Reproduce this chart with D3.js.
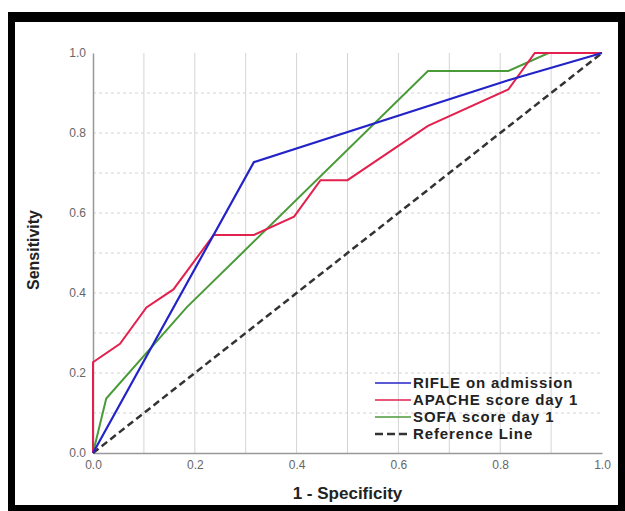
<!DOCTYPE html>
<html>
<head>
<meta charset="utf-8">
<script src="https://cdn.jsdelivr.net/npm/d3@7"></script>
<style>
  body { margin: 0; background: #fff; }
  svg { display: block; font-family: "Liberation Sans", Arial, sans-serif; }
</style>
</head>
<body>
<script>
// ROC curve points (1 - specificity, sensitivity)
const rifleX = [0, 0.316, 0.816, 1];
const rifleY = [0, 0.727, 0.932, 1];
const apacheX = [0, 0, 0.053, 0.105, 0.158, 0.237, 0.316, 0.395, 0.447, 0.5, 0.658, 0.816, 0.868, 1];
const apacheY = [0, 0.227, 0.273, 0.364, 0.409, 0.545, 0.545, 0.591, 0.682, 0.682, 0.818, 0.909, 1, 1];
const sofaX = [0, 0.026, 0.184, 0.658, 0.816, 0.895, 1];
const sofaY = [0, 0.136, 0.364, 0.955, 0.955, 1, 1];
const refX = [0, 1];
const refY = [0, 1];

const seriesNames = ["RIFLE on admission", "APACHE score day 1", "SOFA score day 1", "Reference Line"];
const tickValues = [0, 0.2, 0.4, 0.6, 0.8, 1.0];
const gridValues = [0.1, 0.2, 0.3, 0.4, 0.5, 0.6, 0.7, 0.8, 0.9];

const w = 625, h = 511;
const plotLeft = 93, plotRight = 602, plotTop = 53, plotBottom = 453;

const svg = d3.select("body").append("svg")
    .attr("width", w)
    .attr("height", h);

// black frame
svg.append("rect").attr("x", 8).attr("y", 12).attr("width", w - 8).attr("height", h - 12).attr("fill", "#000");
svg.append("rect").attr("x", 15).attr("y", 22).attr("width", 603).attr("height", 483).attr("fill", "#fff");

const x = d3.scaleLinear().domain([0, 1]).range([plotLeft, plotRight]);
const y = d3.scaleLinear().domain([0, 1]).range([plotBottom, plotTop]);

// grid
svg.append("g").selectAll("line")
    .data(gridValues)
    .enter().append("line")
    .attr("x1", d => x(d)).attr("x2", d => x(d))
    .attr("y1", y(0)).attr("y2", y(1))
    .attr("stroke", "#d4d4d4").attr("stroke-width", 1);

svg.append("g").selectAll("line")
    .data(gridValues)
    .enter().append("line")
    .attr("x1", x(0)).attr("x2", x(1))
    .attr("y1", d => y(d)).attr("y2", d => y(d))
    .attr("stroke", "#d4d4d4").attr("stroke-width", 1)
    .attr("stroke-dasharray", "3,3");

// axes
const xAxis = svg.append("g")
    .attr("transform", `translate(0,${plotBottom})`)
    .call(d3.axisBottom(x).tickValues(tickValues).tickFormat(d3.format(".1f")).tickSize(0).tickPadding(7));
const yAxis = svg.append("g")
    .attr("transform", `translate(${plotLeft},0)`)
    .call(d3.axisLeft(y).tickValues(tickValues).tickFormat(d3.format(".1f")).tickSize(0).tickPadding(7));

[xAxis, yAxis].forEach(g => {
    g.select(".domain").attr("stroke", "#999").attr("stroke-width", 1.5);
    g.selectAll("text")
        .attr("fill", "#666")
        .style("font-size", "12px")
        .style("font-family", "Liberation Sans, Arial, sans-serif");
});

// curves
const line = d3.line().x(d => x(d[0])).y(d => y(d[1]));
const curves = [
    { xs: rifleX, ys: rifleY, color: "#2323c8", dash: null, width: 2.2 },
    { xs: apacheX, ys: apacheY, color: "#e2214e", dash: null, width: 2 },
    { xs: sofaX, ys: sofaY, color: "#4a9a3a", dash: null, width: 2 },
    { xs: refX, ys: refY, color: "#333", dash: "7,4", width: 2.5 }
];

// draw reference line first so curves sit on top
[3, 2, 1, 0].forEach(i => {
    const c = curves[i];
    svg.append("path")
        .datum(c.xs.map((v, j) => [v, c.ys[j]]))
        .attr("fill", "none")
        .attr("stroke", c.color)
        .attr("stroke-width", c.width)
        .attr("stroke-dasharray", c.dash)
        .attr("d", line);
});

// legend
const legend = svg.append("g").attr("transform", "translate(375,383)");
seriesNames.forEach((name, i) => {
    const row = legend.append("g").attr("transform", `translate(0,${i * 17})`);
    row.append("line")
        .attr("x1", 0).attr("x2", 36)
        .attr("stroke", curves[i].color)
        .attr("stroke-width", i === 3 ? 2.5 : 1.6)
        .attr("stroke-dasharray", i === 3 ? "8,4" : null);
    row.append("text")
        .attr("x", 38).attr("y", 5)
        .style("font-size", "15px")
        .style("font-weight", "bold")
        .style("letter-spacing", "0.9px")
        .attr("fill", "#222")
        .text(name);
});

// axis titles
svg.append("text")
    .attr("x", (plotLeft + plotRight) / 2)
    .attr("y", 499)
    .attr("text-anchor", "middle")
    .style("font-size", "17px")
    .style("font-weight", "bold")
    .attr("fill", "#222")
    .text("1 - Specificity");

svg.append("text")
    .attr("transform", "translate(39,250) rotate(-90)")
    .attr("text-anchor", "middle")
    .style("font-size", "16px")
    .style("font-weight", "bold")
    .attr("fill", "#222")
    .text("Sensitivity");
</script>
</body>
</html>
